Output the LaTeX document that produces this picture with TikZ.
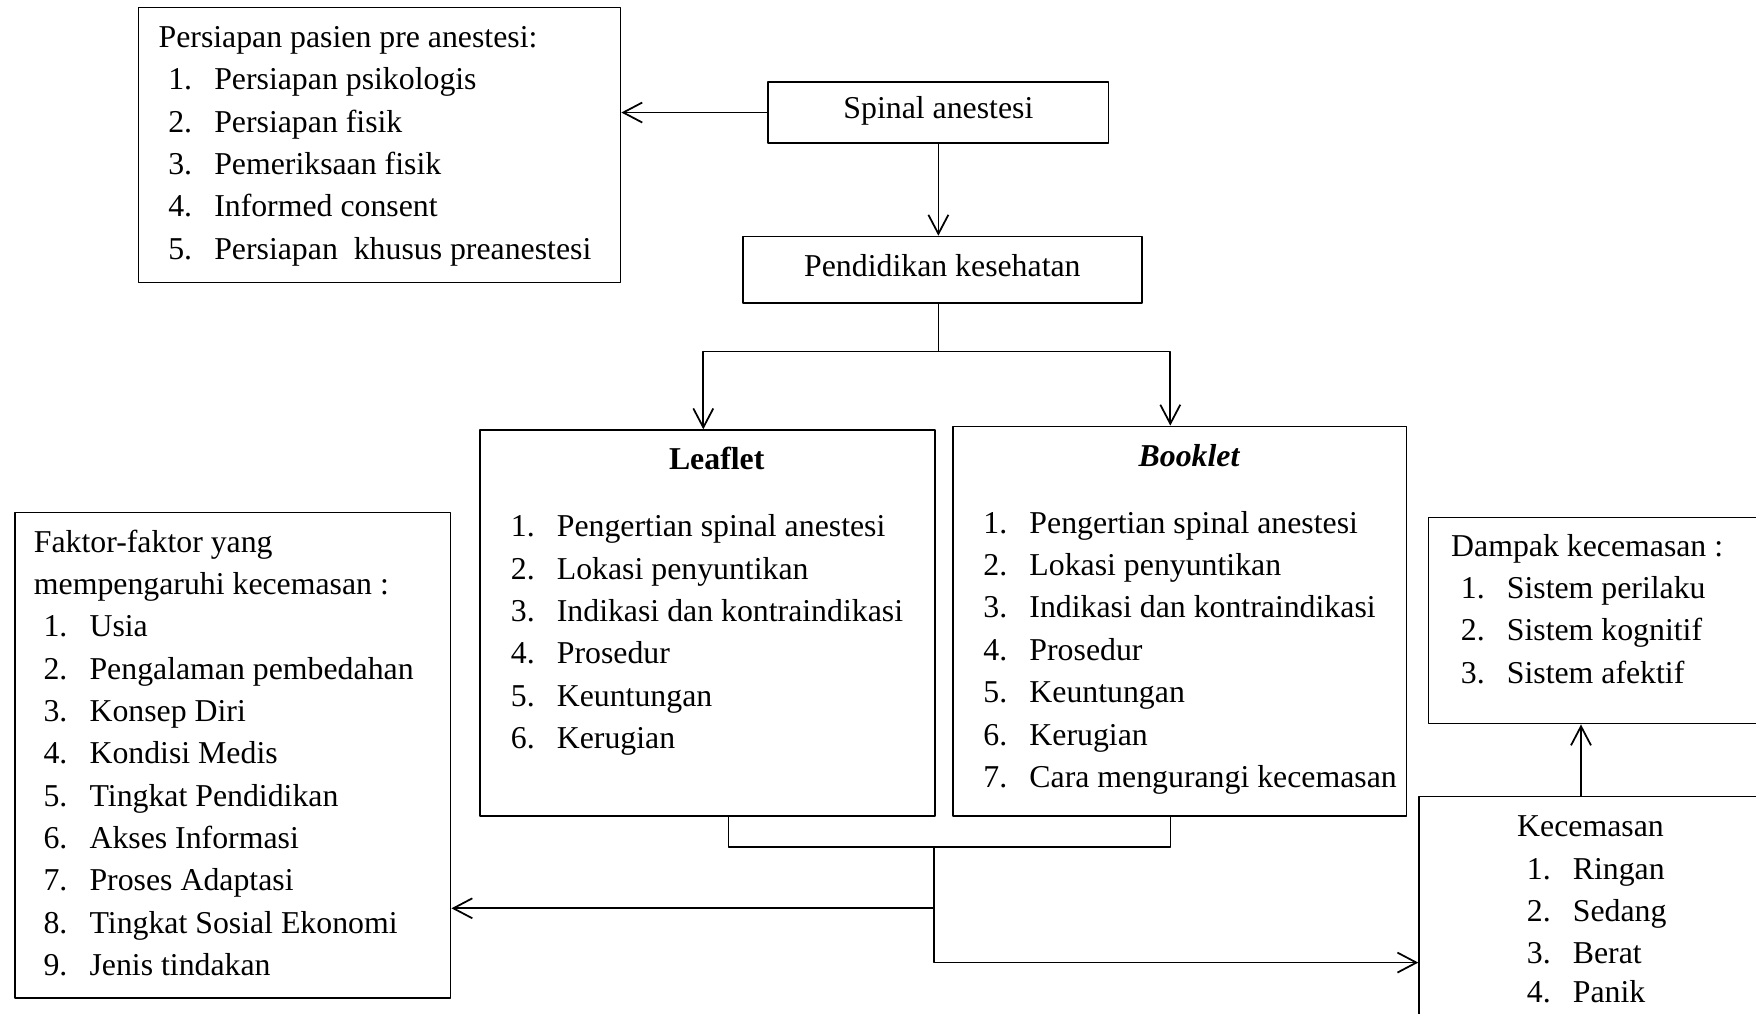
\documentclass[tikz,border=0pt]{standalone}
\usepackage{fontspec}
\setmainfont{Liberation Serif}
\usetikzlibrary{arrows.meta}

\begin{document}
\begin{tikzpicture}[x=0.02cm, y=-0.02cm, line width=1pt, line join=round,
		>={Straight Barb[length=3.8mm,width=4mm]},
		font=\fontsize{18.1}{24.1}\selectfont,
		box/.style 2 args={draw, anchor=north west, inner sep=0pt, minimum width=#1*0.02cm, minimum height=#2*0.02cm, text height=0.75em, text depth=0.05em},
		lst/.style={anchor=base west, inner sep=0pt},
		ttl/.style={anchor=base, inner sep=0pt, font=\fontsize{18.1}{24.1}\selectfont\bfseries}]
		\def\hd#1{\multicolumn{2}{@{\hspace*{-5.5pt}}l@{}}{#1}}
		\def\items#1{\begin{tabular}[t]{@{}p{0.92cm}@{}l@{}}#1\end{tabular}}
		\useasboundingbox (0,0) rectangle (1756,1014);
		\clip (0,0) rectangle (1756,1014);
		% boxes
		\node[box={482.1}{275}] (persiapan) at (137.5,6.7) {};
		\node[box={340.4}{61.3}] (spinal) at (767.3,81) {Spinal anestesi};
		\node[box={399}{66.6}] (pendidikan) at (742,235.7) {Pendidikan kesehatan};
		\node[box={455.1}{385.7}] (leaflet) at (479.3,429.3) {};
		\node[box={453.2}{389.4}] (booklet) at (952.3,425.6) {};
		\node[box={435.7}{485.6}] (faktor) at (14,511.7) {};
		\node[box={400}{206}] (dampak) at (1427.7,516.7) {};
		\node[box={420}{332}] (kecemasan) at (1418.3,795.7) {};
		% lists
		\node[lst] (persiapan-l) at (167.4,47.5) {\items{\hd{Persiapan pasien pre anestesi:}\\ 1. & Persiapan psikologis\\ 2. & Persiapan fisik\\ 3. & Pemeriksaan fisik\\ 4. & Informed consent\\ 5. & Persiapan \ khusus preanestesi}};
		\node[ttl] (leaflet-t) at (716.7,469.3) {Leaflet};
		\node[lst] (leaflet-l) at (510,536.7) {\items{1. & Pengertian spinal anestesi\\ 2. & Lokasi penyuntikan\\ 3. & Indikasi dan kontraindikasi\\ 4. & Prosedur\\ 5. & Keuntungan\\ 6. & Kerugian}};
		\node[ttl] (booklet-t) at (1189,466) {\itshape Booklet};
		\node[lst] (booklet-l) at (982.6,533.3) {\items{1. & Pengertian spinal anestesi\\ 2. & Lokasi penyuntikan\\ 3. & Indikasi dan kontraindikasi\\ 4. & Prosedur\\ 5. & Keuntungan\\ 6. & Kerugian\\ 7. & Cara mengurangi kecemasan}};
		\node[lst] (faktor-l) at (42.7,552) {\items{\hd{Faktor-faktor yang}\\ \hd{mempengaruhi kecemasan :}\\ 1. & Usia\\ 2. & Pengalaman pembedahan\\ 3. & Konsep Diri\\ 4. & Kondisi Medis\\ 5. & Tingkat Pendidikan\\ 6. & Akses Informasi\\ 7. & Proses Adaptasi\\ 8. & Tingkat Sosial Ekonomi\\ 9. & Jenis tindakan}};
		\node[lst] (dampak-l) at (1460,556) {\items{\hd{Dampak kecemasan :}\\ 1. & Sistem perilaku\\ 2. & Sistem kognitif\\ 3. & Sistem afektif}};
		\node[lst] (kecemasan-l) at (1526,836.7) {\items{\hd{Kecemasan}\\ 1. & Ringan\\ 2. & Sedang\\ 3. & Berat\\[-2pt] 4. & Panik}};
		% connectors
		\coordinate (forkL) at (703.3,351.6);
		\coordinate (forkR) at (1170.3,351.6);
		\coordinate (brL) at (728.4,847.3);
		\coordinate (brR) at (1170.4,847.3);
		\coordinate (join) at (933.8,847.3);
		\coordinate (split) at (933.8,908.3);
		\coordinate (up) at (1581,795.7);
		\draw[->] (spinal.west) -- (spinal.west -| persiapan.east);
		\draw[->] (spinal.south) -- (spinal.south |- pendidikan.north);
		\draw (spinal.south |- pendidikan.south) -- (spinal.south |- forkL);
		\draw[<->] (forkL |- leaflet.north) -- (forkL) -- (forkR) -- (forkR |- booklet.north);
		\draw (brL |- leaflet.south) -- (brL) -- (brR) -- (brR |- booklet.south);
		\draw (join) -- (split);
		\draw[->] (split) -- (split -| faktor.east);
		\draw[->] (split) |- (kecemasan.west);
		\draw[->] (up) -- (up |- dampak.south);
\end{tikzpicture}
\end{document}
